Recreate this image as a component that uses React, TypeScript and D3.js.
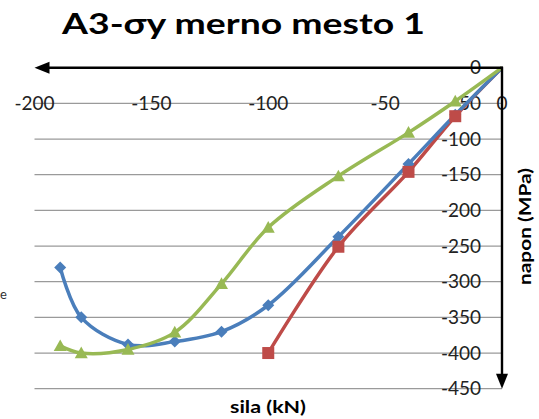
import React from "react";
import * as d3 from "d3";

const xTicks = [-200, -150, -100, -50, 0];
const yTicks = [0, -50, -100, -150, -200, -250, -300, -350, -400, -450];

const forceBlue = [0, -20, -40, -70, -100, -120, -140, -160, -180, -189];
const stressBlue = [0, -66, -135, -237, -333, -370, -384, -388, -350, -280];

const forceRed = [0, -20, -40, -70, -100];
const stressRed = [0, -68, -146, -251, -400];

const forceGreen = [0, -20, -40, -70, -100, -120, -140, -160, -180, -189];
const stressGreen = [0, -47, -91, -152, -224, -303, -371, -395, -400, -390];

const title = "A3-σy merno mesto 1";
const xTitle = "sila (kN)";
const yTitle = "napon (MPa)";

const W = 539;
const H = 419;
const FONT = "Lato, 'Open Sans', sans-serif";

export default function App() {
  const x = d3.scaleLinear().domain([-200, 0]).range([34.5, 502]);
  const y = d3.scaleLinear().domain([0, -450]).range([67.7, 388.7]);

  const line = d3
    .line<[number, number]>()
    .x((d) => x(d[0]))
    .y((d) => y(d[1]))
    .curve(d3.curveCatmullRom.alpha(0.5));

  const mk = (f: number[], s: number[]) => f.map((v, i) => [v, s[i]] as [number, number]);
  const blue = mk(forceBlue, stressBlue);
  const red = mk(forceRed, stressRed);
  const green = mk(forceGreen, stressGreen);

  const cBlue = "#4A7EBB";
  const cRed = "#BE4B48";
  const cGreen = "#98B954";

  const x0 = x(0);
  const y0 = y(0);
  const xLeft = x(-200);
  const yBottom = y(-450);

  return (
    <svg
      width={W}
      height={H}
      style={{ position: "absolute", left: 0, top: 0, background: "#fff" }}
      fontFamily={FONT}
    >
      <text
        x={62}
        y={34}
        fontSize={28}
        fontWeight="bold"
        fill="#000"
        textLength={363}
        lengthAdjust="spacingAndGlyphs"
      >
        {title}
      </text>

      {yTicks
        .filter((t) => t !== 0)
        .map((t) => (
          <line key={t} x1={xLeft} x2={x0} y1={y(t)} y2={y(t)} stroke="#9a9a9a" strokeWidth={1.2} />
        ))}

      {xTicks.map((t) => (
        <text key={t} x={x(t)} y={y(-50)} dy="0.35em" textAnchor="middle" fontSize={19} fill="#222">
          {t}
        </text>
      ))}
      {yTicks.map((t) => (
        <text key={t} x={481} y={y(t)} dy="0.35em" textAnchor="end" fontSize={19} fill="#222">
          {t}
        </text>
      ))}

      <path d={line(red) || ""} fill="none" stroke={cRed} strokeWidth={3.5} />
      <path d={line(blue) || ""} fill="none" stroke={cBlue} strokeWidth={3.5} />
      <path d={line(green) || ""} fill="none" stroke={cGreen} strokeWidth={3.5} />

      {blue.slice(1).map((d, i) => {
        const cx = x(d[0]);
        const cy = y(d[1]);
        const r = 6;
        return (
          <path
            key={"b" + i}
            d={`M${cx},${cy - r}L${cx + r},${cy}L${cx},${cy + r}L${cx - r},${cy}Z`}
            fill={cBlue}
          />
        );
      })}
      {red.slice(1).map((d, i) => {
        const cx = x(d[0]);
        const cy = y(d[1]);
        const r = 6;
        return <rect key={"r" + i} x={cx - r} y={cy - r} width={2 * r} height={2 * r} fill={cRed} />;
      })}
      {green.slice(1).map((d, i) => {
        const cx = x(d[0]);
        const cy = y(d[1]);
        const r = 6.5;
        return (
          <path
            key={"g" + i}
            d={`M${cx},${cy - r}L${cx + r},${cy + r * 0.8}L${cx - r},${cy + r * 0.8}Z`}
            fill={cGreen}
          />
        );
      })}

      {/* axes with arrows */}
      <line x1={xLeft + 12} x2={x0 + 1} y1={y0} y2={y0} stroke="#000" strokeWidth={2.4} />
      <path d={`M${xLeft},${y0}L${xLeft + 15},${y0 - 6}L${xLeft + 15},${y0 + 6}Z`} fill="#000" />
      <line x1={x0} x2={x0} y1={y0 - 1} y2={yBottom - 12} stroke="#000" strokeWidth={2.4} />
      <path d={`M${x0},${yBottom}L${x0 - 6},${yBottom - 15}L${x0 + 6},${yBottom - 15}Z`} fill="#000" />

      <text
        x={230}
        y={413}
        fontSize={17}
        fontWeight="bold"
        fill="#000"
        textLength={76}
        lengthAdjust="spacingAndGlyphs"
      >
        {xTitle}
      </text>
      <text
        transform={`translate(531,285) rotate(-90)`}
        fontSize={17}
        fontWeight="bold"
        fill="#000"
        textLength={117}
        lengthAdjust="spacingAndGlyphs"
      >
        {yTitle}
      </text>
      <text x={0} y={299} fontSize={13} fill="#333">
        e
      </text>
    </svg>
  );
}
